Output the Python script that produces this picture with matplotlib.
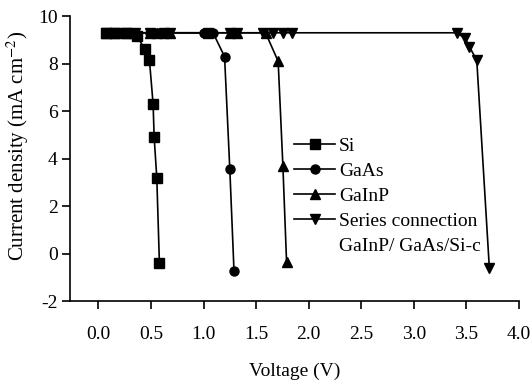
import matplotlib
matplotlib.use("Agg")
import matplotlib.pyplot as plt
from matplotlib.lines import Line2D

# données (tension en V, densité de courant en mA/cm2)
v_si = [0.07, 0.16, 0.26, 0.37, 0.44, 0.485, 0.52, 0.53, 0.555, 0.58]
j_si = [9.3, 9.3, 9.3, 9.15, 8.6, 8.15, 6.3, 4.9, 3.2, -0.4]

v_gaas = [0.07, 0.16, 0.26, 0.35, 0.49, 0.56, 0.62, 1.0, 1.09, 1.2, 1.25, 1.29]
j_gaas = [9.3, 9.3, 9.3, 9.3, 9.3, 9.3, 9.3, 9.3, 9.3, 8.3, 3.55, -0.75]

v_gainp = [0.07, 0.16, 0.26, 0.35, 0.49, 0.56, 0.62, 0.68, 1.04, 1.25, 1.32, 1.59, 1.71, 1.755, 1.79]
j_gainp = [9.3, 9.3, 9.3, 9.3, 9.3, 9.3, 9.3, 9.3, 9.3, 9.3, 9.3, 9.3, 8.1, 3.7, -0.35]

v_serie = [0.07, 0.16, 0.26, 0.35, 0.49, 0.62, 0.68, 1.04, 1.25, 1.32,
           1.57, 1.66, 1.76, 1.84, 3.41, 3.49, 3.53, 3.60, 3.72]
j_serie = [9.3, 9.3, 9.3, 9.3, 9.3, 9.3, 9.3, 9.3, 9.3, 9.3,
           9.3, 9.3, 9.3, 9.3, 9.3, 9.06, 8.71, 8.15, -0.62]

plt.rcParams["font.family"] = "Liberation Serif"
plt.rcParams["mathtext.fontset"] = "stix"
plt.rcParams["axes.unicode_minus"] = False

fig = plt.figure(figsize=(5.31, 3.85), dpi=100)
ax = fig.add_axes([0.132, 0.218, 0.845, 0.74])

style = dict(color="black", linewidth=1.2, markersize=6.5)
ax.plot(v_si, j_si, marker="s", label="Si", **style)
ax.plot(v_gaas, j_gaas, marker="o", label="GaAs", **style)
ax.plot(v_gainp, j_gainp, marker="^", label="GaInP", **style)
ax.plot(v_serie, j_serie, marker="v", label="Series connection", **style)

ax.set_xlim(-0.27, 4.0)
ax.set_ylim(-2, 10)
ax.set_xticks([0.0, 0.5, 1.0, 1.5, 2.0, 2.5, 3.0, 3.5, 4.0])
ax.set_xticklabels(["0.0", "0.5", "1.0", "1.5", "2.0", "2.5", "3.0", "3.5", "4.0"])
ax.set_yticks([-2, 0, 2, 4, 6, 8, 10])

for s in ["top", "right"]:
    ax.spines[s].set_visible(False)
ax.spines["left"].set_linewidth(1.2)
ax.spines["bottom"].set_linewidth(1.2)
ax.tick_params(direction="out", length=6, width=1.2, labelsize=14)
ax.tick_params(axis="x", pad=12)
ax.tick_params(axis="y", pad=3)

ax.set_xlabel("Voltage (V)", fontsize=14, labelpad=14)
ax.set_ylabel(r"Current density (mA cm$^{-2}$)", fontsize=15)
ax.yaxis.set_label_coords(-0.087, 0.544)

handles, labels = ax.get_legend_handles_labels()
handles.append(Line2D([], [], linestyle="none"))
labels.append("GaInP/ GaAs/Si-c")
ax.legend(handles, labels, loc="upper left", bbox_to_anchor=(0.5, 0.575),
          frameon=False, fontsize=14, handlelength=2.1, handletextpad=0.2,
          labelspacing=0.38, borderaxespad=0, borderpad=0)

plt.savefig("out.png", dpi=100)
